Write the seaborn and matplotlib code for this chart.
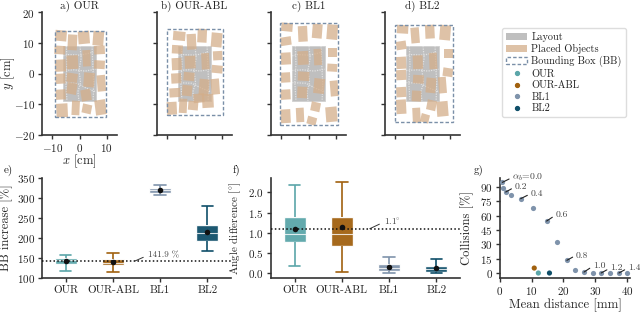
import matplotlib
matplotlib.use('Agg')
import matplotlib.pyplot as plt
from matplotlib.patches import Patch, Rectangle
from matplotlib.lines import Line2D
from matplotlib.transforms import Affine2D
import seaborn as sns

sns.set_theme(style='ticks')
plt.rcParams['font.family'] = ['cmr10', 'DejaVu Serif']
plt.rcParams['axes.formatter.use_mathtext'] = True
plt.rcParams['mathtext.fontset'] = 'cm'
plt.rcParams['axes.unicode_minus'] = True

W, H = 640, 313
dark = '#333333'
c_gray = '#bfbfbf'
c_tan = '#d4ae8a'
c_bb = '#7a8fa8'

methods = ['OUR', 'OUR-ABL', 'BL1', 'BL2']
colors = ['#5ba6a9', '#a1610f', '#7f93ab', '#0f4f69']

# min, q1, median, q3, max
bb_our = [116.7, 135, 144, 150, 157.5]
bb_abl = [114, 131, 138, 146.7, 163]
bb_bl1 = [306, 313, 319, 324, 332.5]
bb_bl2 = [167.5, 193, 211, 232, 279]
bb_means = [142, 140, 319, 214]

ang_our = [0.165, 0.77, 0.98, 1.39, 2.19]
ang_abl = [0.025, 0.68, 0.98, 1.40, 2.25]
ang_bl1 = [0.0, 0.06, 0.13, 0.215, 0.40]
ang_bl2 = [0.0, 0.025, 0.10, 0.18, 0.355]
ang_means = [1.09, 1.15, 0.157, 0.115]

# alpha sweep in g)
sweep_dist = [0.74, 0.84, 1.8, 3.5, 6.5, 10.5, 14.7, 18.1, 21.1, 23.7, 26.5, 29.2, 31.9, 34.6, 37.5, 40.2]
sweep_coll = [94.9, 89.3, 84.8, 81.6, 77.8, 68.4, 54.4, 32.8, 13.3, 3.5, 1.0, 0, 0, 0, 0, 0]
method_dist = [12.1, 10.8, 15.6]
method_coll = [0, 5.2, 0]

# placed objects: x, y, w, h, angle
objs_a = [(-6.8, 12.4, 3.9, 3.3, -5), (1.6, 11.8, 3.9, 3.9, 5), (6.9, 11.5, 3.7, 4.4, -5), (-2.6, 10.2, 3.2, 4.8, -3),
          (-7.2, 7.7, 3.7, 2.6, -3), (7.3, 7.7, 3.7, 2.6, 3), (-2.6, 3.7, 3.9, 4.2, 3), (2.6, 5.0, 2.7, 5.0, 3),
          (7.3, 2.9, 3.7, 2.6, -3), (-7.0, 2.6, 3.7, 3.7, 3), (-2.7, -1.4, 3.7, 2.8, -8), (3.5, -2.1, 3.7, 4.4, -5),
          (-7.0, -1.7, 3.4, 3.1, 3), (8.0, -3.2, 2.9, 5.0, 5), (-2.8, -4.9, 3.4, 3.5, -10), (2.4, -7.1, 3.4, 3.5, 10),
          (-6.9, -6.9, 3.4, 3.1, 3), (-6.4, -12.1, 3.9, 4.2, 3), (-1.4, -11.3, 2.7, 4.4, -3), (2.7, -11.6, 3.2, 2.8, -12),
          (7.7, -11.1, 3.7, 4.6, 8)]
objs_b = [(-5.6, 12.3, 4.2, 2.8, -5), (2.8, 12.4, 3.2, 4.2, -3), (8.1, 11.0, 3.7, 4.4, -5), (-1.1, 10.4, 3.2, 4.8, 3),
          (-6.3, 7.9, 3.7, 2.6, -3), (8.5, 5.85, 3.2, 2.8, 3), (-6.5, 3.1, 3.4, 3.7, 3), (-1.6, 3.7, 3.7, 3.9, 3),
          (4.0, 4.0, 2.7, 5.0, 3), (8.3, 1.4, 3.7, 2.4, -5), (-6.7, -1.6, 3.4, 3.1, 3), (-2.0, -1.0, 3.7, 2.6, -5),
          (7.6, -4.3, 2.9, 4.8, 5), (3.5, -4.5, 3.4, 5.0, -5), (-2.7, -5.6, 3.4, 3.3, -5), (-7.2, -6.3, 3.7, 2.8, 3),
          (1.6, -8.1, 3.7, 2.8, 5), (4.9, -9.0, 3.9, 4.2, 3), (-8.3, -11.4, 3.4, 3.9, 3), (-4.2, -10.6, 2.7, 4.4, -3),
          (-0.5, -10.5, 3.4, 2.8, -5)]
objs_c = [(-7.9, 15.2, 3.9, 2.6, -5), (-2.1, 13.0, 3.2, 4.8, 3), (3.2, 13.9, 3.4, 4.4, -5), (8.7, 13.6, 3.7, 4.6, -5),
          (-8.3, 10.6, 3.7, 2.6, 8), (8.8, 7.0, 3.2, 2.8, 0), (-2.0, 5.1, 3.7, 4.2, 3), (3.4, 5.4, 2.7, 5.0, 3),
          (-8.3, 4.9, 3.4, 3.7, 3), (8.7, 1.9, 3.4, 2.4, -3), (-1.8, -0.9, 3.9, 2.8, -3), (-8.4, -1.3, 3.2, 3.1, 3),
          (3.9, -4.1, 3.7, 4.6, -6), (-2.3, -6.2, 3.4, 3.5, -3), (-8.4, -6.9, 3.4, 3.1, 3), (9.4, -4.9, 2.7, 4.8, 5),
          (2.6, -10.9, 3.2, 2.8, -12), (-8.4, -14.0, 3.4, 4.2, 3), (-3.1, -13.6, 2.7, 4.4, 3), (1.2, -15.5, 3.2, 2.4, -15),
          (8.4, -13.4, 3.9, 4.6, 5)]
objs_d = [(-7.3, 14.5, 3.9, 2.6, -3), (-2.7, 12.5, 2.9, 4.8, 5), (2.7, 13.7, 3.2, 4.2, 3), (8.3, 13.4, 3.7, 4.6, -5),
          (-7.8, 9.2, 3.4, 2.6, 8), (9.6, 6.5, 3.2, 2.8, 0), (-1.7, 3.7, 3.4, 4.2, 3), (3.9, 4.1, 2.7, 5.0, 3),
          (-7.8, 3.5, 3.4, 3.7, 3), (9.3, 0.4, 3.4, 2.6, -8), (-1.5, -1.9, 3.7, 2.6, -3), (-7.8, -0.5, 3.4, 3.1, 3),
          (3.1, -3.9, 3.4, 4.6, -5), (7.3, -3.8, 2.7, 5.0, 5), (-2.2, -7.4, 3.2, 3.3, -3), (-7.8, -6.1, 3.4, 3.1, 3),
          (3.3, -10.4, 3.2, 3.1, -12), (-7.8, -10.9, 3.4, 4.4, 3), (7.3, -11.6, 3.9, 4.6, 5), (-2.2, -13.7, 2.7, 4.6, 3),
          (0.9, -14.7, 2.9, 2.6, -15)]

# bounding box x0, x1, y0, y1
bbox_a = (-9.1, 9.8, -14.4, 14.0)
bbox_b = (-10.2, 10.5, -13.7, 14.7)
bbox_c = (-10.4, 10.9, -16.9, 16.7)
bbox_d = (-9.9, 11.2, -16.0, 15.9)

layout_x = [-6.0, 6.0]
layout_y = [-9.1, 9.1]
# pale gaps in the layout
veins = [[(0.2, 9), (0.6, 5), (-0.2, 1), (0.4, -3), (-0.6, -6), (-0.2, -9)],
         [(-6, 1.0), (-2, 1.2), (2, 0.8), (6, 1.4)],
         [(-6, 5.8), (-4, 6.2), (0.4, 6.0), (5, 7.0)],
         [(-6, -3.0), (-1, -3.2), (3, -5.0), (6, -6.0)],
         [(-4.8, 9), (-4.6, 3), (-5.0, -3), (-4.6, -9)],
         [(4.6, 9), (4.9, 2), (5.2, -3), (5.0, -9)]]


def make_ax(l, t, r, b):
    ax = fig.add_axes([l / W, 1 - b / H, (r - l) / W, (b - t) / H])
    ax.tick_params(length=3, width=1.0, color=dark, labelsize=8, pad=2, labelcolor='#222222')
    ax.tick_params(axis='x', pad=2.5)
    sns.despine(ax=ax)
    for s in ['left', 'bottom']:
        ax.spines[s].set_linewidth(1.2)
        ax.spines[s].set_color(dark)
    ax.set_facecolor('none')
    return ax


def draw_scene(ax, objs, bbox, title):
    ax.add_patch(Rectangle((layout_x[0], layout_y[0]), layout_x[1] - layout_x[0], layout_y[1] - layout_y[0],
                           fc=c_gray, ec='#d0d0d0', lw=0.6, zorder=1))
    for v in veins:
        ax.plot([p[0] for p in v], [p[1] for p in v], color='#e2e2e2', lw=0.9, ls=(0, (1, 1)), zorder=1.5)
    for x, y, w, h, ang in objs:
        tr = Affine2D().rotate_deg_around(x, y, ang) + ax.transData
        w, h = w * 1.07, h * 1.07
        ax.add_patch(Rectangle((x - w / 2, y - h / 2), w, h, fc=c_tan, ec='none', alpha=0.75, transform=tr, zorder=2))
    ax.add_patch(Rectangle((bbox[0], bbox[2]), bbox[1] - bbox[0], bbox[3] - bbox[2],
                           fc='none', ec=c_bb, lw=1.0, ls=(0, (2.5, 1.5)), zorder=3))
    ax.set_xlim(-13.74, 13.74)
    ax.set_ylim(-20, 20)
    ax.set_xticks([-10, 0, 10])
    ax.set_yticks([-20, -10, 0, 10, 20])
    ax.set_title(title, fontsize=8, pad=2, color='#222222')


def draw_boxes(ax, stats, means):
    for name, vals, col in zip(methods, stats, colors):
        sns.boxplot(x=[name] * len(vals), y=vals, order=methods, color=col, linecolor=col, ax=ax,
                    whis=(0, 100), width=0.47, saturation=1, showfliers=False, capwidths=0.24, linewidth=1.2,
                    boxprops={'facecolor': col, 'edgecolor': '#ffffff80', 'linewidth': 1.0, 'alpha': 0.95},
                    medianprops={'color': 'white', 'linewidth': 0.8, 'alpha': 0.8})
    sns.scatterplot(x=methods, y=means, color='#111111', s=16, linewidth=0, ax=ax, zorder=5)
    ax.set_xlim(-0.5, 3.5)
    ax.set_xlabel('')


fig = plt.figure(figsize=(W / 100, H / 100), dpi=100)

ax_a = make_ax(42, 12.5, 117, 134.5)
draw_scene(ax_a, objs_a, bbox_a, 'a) OUR')
ax_a.set_xlabel(r'$x$ [cm]', fontsize=9, labelpad=-1)
ax_a.set_ylabel(r'$y$ [cm]', fontsize=9)
ax_a.yaxis.set_label_coords(-0.327, 0.5)
for (l, r), objs, bbox, title in [((157, 232), objs_b, bbox_b, 'b) OUR-ABL'),
                                  ((271, 346), objs_c, bbox_c, 'c) BL1'),
                                  ((385, 460), objs_d, bbox_d, 'd) BL2')]:
    ax = make_ax(l, 12.5, r, 134.5)
    draw_scene(ax, objs, bbox, title)
    ax.tick_params(labelleft=False, labelbottom=False)

leader = dict(arrowstyle='-', color='#333333', lw=0.7, shrinkA=1, shrinkB=0, relpos=(0, 0.5))

# e)
ax_e = make_ax(42, 177.7, 231, 277.7)
draw_boxes(ax_e, [bb_our, bb_abl, bb_bl1, bb_bl2], bb_means)
ax_e.axhline(141.9, color='#111111', ls=(0, (1, 1.5)), lw=1.1, zorder=4)
ax_e.set_ylim(100, 350)
ax_e.set_yticks(range(100, 351, 50))
ax_e.set_ylabel('BB increase [%]', fontsize=9)
ax_e.yaxis.set_label_coords(-0.152, 0.5)
ax_e.annotate('141.9 %', xy=(1.47, 141.9), xytext=(1.74, 156), fontsize=6.5, color='#444444', va='center',
              arrowprops=leader)

# f)
ax_f = make_ax(271, 177.7, 460, 277.7)
draw_boxes(ax_f, [ang_our, ang_abl, ang_bl1, ang_bl2], ang_means)
ax_f.axhline(1.1, color='#111111', ls=(0, (1, 1.5)), lw=1.1, zorder=4)
ax_f.set_ylim(-0.115, 2.365)
ax_f.set_yticks([0, 0.5, 1.0, 1.5, 2.0])
ax_f.set_ylabel(r'Angle difference [$^{\circ}$]', fontsize=8)
ax_f.yaxis.set_label_coords(-0.146, 0.5)
ax_f.annotate(r'1.1$^{\circ}$', xy=(1.59, 1.1), xytext=(1.89, 1.265), fontsize=6.5, color='#444444', va='center',
              arrowprops=leader)

# g)
ax_g = make_ax(500, 177.7, 630, 277.7)
sns.scatterplot(x=sweep_dist, y=sweep_coll, color=colors[2], s=14, linewidth=0, ax=ax_g, clip_on=False, zorder=3)
sns.scatterplot(x=method_dist, y=method_coll, hue=['OUR', 'OUR-ABL', 'BL2'],
                palette=[colors[0], colors[1], colors[3]], s=14, linewidth=0, ax=ax_g, clip_on=False,
                legend=False, zorder=3)
ax_g.set_xlim(0, 41)
ax_g.set_ylim(-4.9, 99.8)
ax_g.set_xticks([0, 10, 20, 30, 40])
ax_g.set_yticks(range(0, 91, 15))
ax_g.set_xlabel('Mean distance [mm]', fontsize=9.2, labelpad=0.5)
ax_g.set_ylabel('Collisions [%]', fontsize=9)
ax_g.yaxis.set_label_coords(-0.2, 0.5)

sweep_labels = [r'$\alpha_b$=0.0', '0.2', '0.4', '0.6', '0.8', '1.0', '1.2', '1.4']
label_idx = [0, 2, 4, 6, 8, 10, 12, 14]
label_off = [(10, 5), (9, 5), (10, 5), (9, 6), (9, 5), (9, 6), (9, 5), (9, 5)]
for txt, i, (dx, dy) in zip(sweep_labels, label_idx, label_off):
    ax_g.annotate(txt, xy=(sweep_dist[i], sweep_coll[i]), xytext=(dx * 0.72, dy * 0.72),
                  textcoords='offset points', fontsize=7, color='#444444', va='center',
                  arrowprops=dict(arrowstyle='-', color='#222222', lw=0.8, shrinkA=0, shrinkB=0, relpos=(0, 0.5)),
                  annotation_clip=False)

fig.text(4 / W, 1 - 170 / H, 'e)', fontsize=8, color='#222222', va='center')
fig.text(233 / W, 1 - 170 / H, 'f)', fontsize=8, color='#222222', va='center')
fig.text(474 / W, 1 - 170 / H, 'g)', fontsize=8, color='#222222', va='center')

handles = [Patch(fc=c_gray, ec='none', label='Layout'),
           Patch(fc=c_tan, ec='none', alpha=0.75, label='Placed Objects'),
           Patch(fc='none', ec=c_bb, ls=(0, (2.5, 1.5)), lw=1.0, label='Bounding Box (BB)')]
for name, col in zip(methods, colors):
    handles.append(Line2D([], [], ls='none', marker='o', ms=2.8, mfc=col, mec=col, label=name))
fig.legend(handles=handles, loc='upper left', bbox_to_anchor=(502 / W, 1 - 28 / H), borderaxespad=0,
           fontsize=7.4, frameon=True, edgecolor='#d5d5d5', labelspacing=0.19, handlelength=2.05,
           handletextpad=0.4, borderpad=0.4, labelcolor='#222222')

fig.savefig('out.png', dpi=100)
